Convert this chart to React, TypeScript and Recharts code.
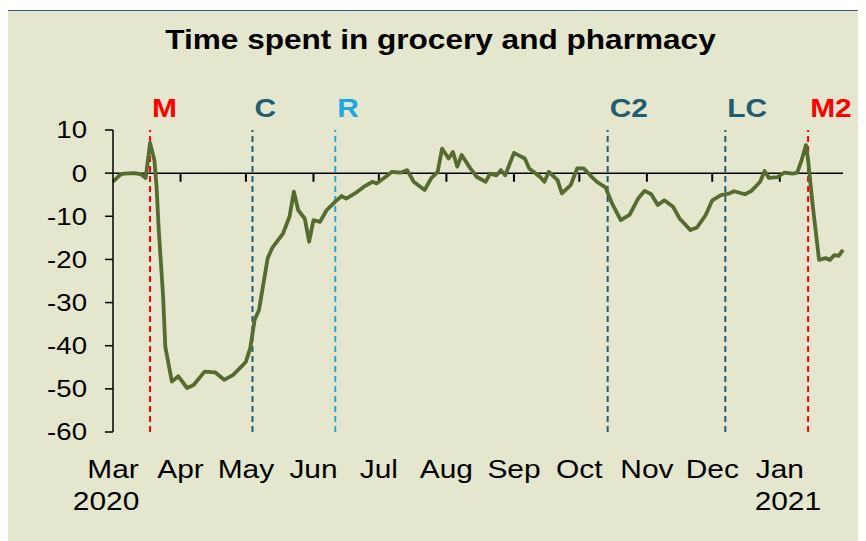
import React from 'react';
import { LineChart, Line, XAxis, YAxis, ReferenceLine } from 'recharts';

// Days since 1 Mar 2020
const dayIndex = [0, 3, 5, 10, 13, 15, 17, 19, 20, 21, 23, 24, 26, 27, 30, 34, 37, 42, 47, 51, 55, 59, 61, 63, 65, 67, 71, 73, 78, 81, 83, 85, 88, 90, 92, 95, 98, 102, 105, 107, 111, 115, 119, 121, 125, 128, 132, 135, 138, 143, 146, 149, 151, 154, 156, 158, 160, 164, 167, 171, 173, 176, 178, 180, 184, 189, 191, 194, 196, 198, 200, 204, 206, 210, 213, 216, 219, 222, 226, 229, 233, 237, 241, 244, 247, 250, 253, 257, 260, 265, 268, 272, 275, 279, 283, 285, 290, 293, 297, 299, 301, 305, 308, 312, 314, 316, 318, 319, 321, 324, 327, 329, 331, 333, 335];
const groceryValues = [-2.0, -0.5, -0.1, 0, -0.3, -1.1, 7.0, 3.0, -3.2, -13.2, -28.6, -40.2, -45.6, -48.3, -47.1, -49.8, -49.1, -46.0, -46.2, -47.9, -46.8, -44.8, -43.7, -40.5, -34.0, -31.7, -19.7, -17.4, -14.0, -10.1, -4.3, -8.6, -10.5, -15.9, -10.9, -11.3, -8.6, -6.6, -5.3, -5.9, -4.7, -3.2, -2.0, -2.4, -0.9, 0.3, 0.1, 0.7, -2.0, -3.9, -1.2, 0.3, 5.7, 3.4, 4.9, 1.5, 4.2, 1.1, -0.9, -2.0, -0.1, -0.5, 0.7, -0.5, 4.7, 3.4, 1.1, -0.1, -0.9, -2.0, 0.3, -1.6, -4.7, -2.8, 1.1, 1.1, -0.5, -2.0, -3.3, -7.0, -10.9, -9.7, -5.9, -4.1, -4.9, -7.4, -6.3, -7.8, -10.5, -13.2, -12.6, -9.7, -6.3, -5.1, -4.7, -4.2, -4.9, -4.1, -2.0, 0.5, -1.1, -0.9, 0.1, -0.1, 0.1, 3.0, 6.5, 3.0, -7.0, -20.1, -19.7, -20.1, -19.0, -19.2, -17.8];

const monthLabels = ['Mar', 'Apr', 'May', 'Jun', 'Jul', 'Aug', 'Sep', 'Oct', 'Nov', 'Dec', 'Jan'];
const monthStartDays = [0, 31, 61, 92, 122, 153, 184, 214, 245, 275, 306];
const yearTickDays = [0, 306];
const yearLabels = ['2020', '2021'];
const yTicks = [10, 0, -10, -20, -30, -40, -50, -60];

const eventNames = ['M', 'C', 'R', 'C2', 'LC', 'M2'];
const eventDays = [17, 64, 102, 227, 281, 319];
const eventColors = ['#FF0000', '#215D72', '#1AA8E4', '#215D72', '#215D72', '#FF0000'];

const data = dayIndex.map((d, i) => ({ day: d, value: groceryValues[i] }));

const FONT = '"Liberation Sans", Arial, sans-serif';
const SX = 1.15;
const YEAR_SHIFT = [-6, 7];

const YTick = (props: any) => {
  const { x, y, payload } = props;
  return (
    <text transform={`translate(${x},${y}) scale(${SX},1)`} x={0} y={0} dy="0.35em" textAnchor="end" fontSize={24} fontFamily={FONT} fill="#000">
      {payload.value}
    </text>
  );
};

const XTick = (props: any) => {
  const { x, y, payload } = props;
  const idx = monthStartDays.indexOf(payload.value);
  const yi = yearTickDays.indexOf(payload.value);
  return (
    <g transform={`translate(${x},${y}) scale(${SX},1)`}>
      <text x={0} y={46} textAnchor="middle" fontSize={26} fontFamily={FONT} fill="#000">
        {monthLabels[idx]}
      </text>
      {yi >= 0 && (
        <text x={YEAR_SHIFT[yi]} y={78} textAnchor="middle" fontSize={26} fontFamily={FONT} fill="#000">
          {yearLabels[yi]}
        </text>
      )}
    </g>
  );
};

const makeEventLabel = (name: string, color: string) => (props: any) => {
  const vb = props.viewBox || {};
  const x = vb.x + 2;
  const y = vb.y - 13;
  return (
    <text transform={`translate(${x},${y}) scale(${SX},1)`} x={0} y={0} textAnchor="start" fontSize={26} fontWeight="bold" fontFamily={FONT} fill={color}>
      {name}
    </text>
  );
};

export default function App() {
  return (
    <div style={{ position: 'relative', marginTop: 2, marginLeft: -1, width: 870, height: 540, border: '1px solid #3C5A8C', background: '#E4E6CD', overflow: 'hidden' }}>
      <LineChart width={858} height={530} data={data} margin={{ top: 119, right: 23, left: 0, bottom: 49 }}>
        <XAxis
          dataKey="day"
          type="number"
          domain={[0, 335]}
          ticks={monthStartDays}
          axisLine={false}
          tickLine={false}
          tickSize={0}
          tickMargin={0}
          height={60}
          interval={0}
          tick={<XTick />}
        />
        <YAxis
          type="number"
          domain={[-60, 10]}
          ticks={yTicks}
          width={105}
          interval={0}
          axisLine={{ stroke: '#000', strokeWidth: 1.5 }}
          tickLine={{ stroke: '#000', strokeWidth: 1.5 }}
          tickSize={8}
          tickMargin={18}
          tick={<YTick />}
        />
        <ReferenceLine y={0} stroke="#000" strokeWidth={1.5} />
        {monthStartDays.slice(1).map((d) => (
          <ReferenceLine key={`mt${d}`} segment={[{ x: d, y: 0 }, { x: d, y: -2 }]} stroke="#000" strokeWidth={2} />
        ))}
        {eventDays.map((d, i) => (
          <ReferenceLine
            key={`ev${i}`}
            x={d}
            stroke={eventColors[i]}
            strokeWidth={2}
            strokeDasharray="6 4"
            label={makeEventLabel(eventNames[i], eventColors[i])}
          />
        ))}
        <Line type="linear" dataKey="value" stroke="#556B2F" strokeWidth={3.8} strokeLinejoin="round" dot={false} isAnimationActive={false} />
      </LineChart>
      <svg width={858} height={60} style={{ position: 'absolute', left: 0, top: 0, pointerEvents: 'none' }}>
        <text transform={`translate(432.5,38) scale(1.17,1)`} x={0} y={0} textAnchor="middle" fontSize={27} fontWeight="bold" fontFamily={FONT} fill="#000">
          Time spent in grocery and pharmacy
        </text>
      </svg>
    </div>
  );
}
